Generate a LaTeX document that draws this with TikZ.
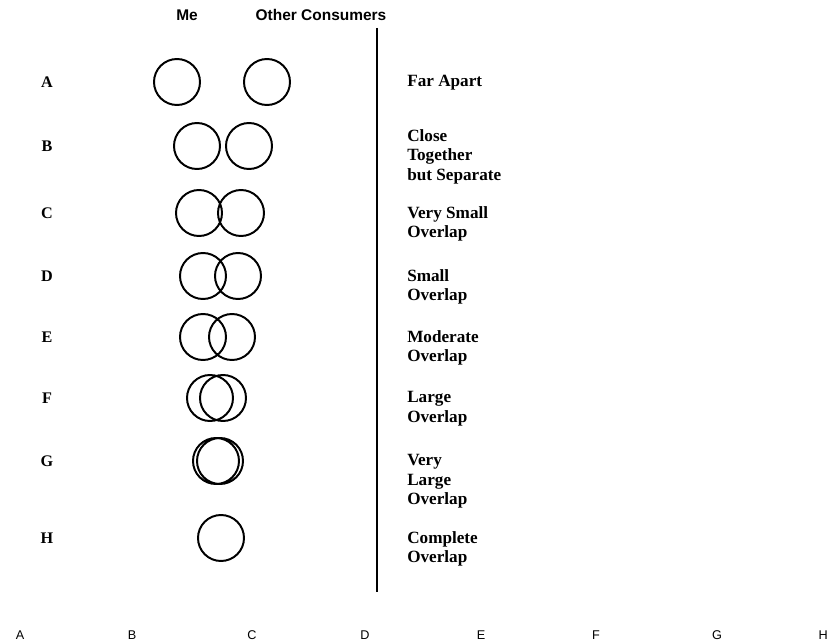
\documentclass[tikz,border=0pt]{standalone}
\usepackage{fontspec}
\setmainfont{Liberation Serif}
\newfontfamily\headfont{Liberation Sans}
\usetikzlibrary{positioning}

\begin{document}
\begin{tikzpicture}[
  x=0.025cm, y=-0.025cm,
  rowlabel/.style={font=\bfseries\fontsize{11.5}{13}\selectfont},
  degree/.style={anchor=north west,align=left,inner sep=0pt,
                 font=\bfseries\fontsize{12.2}{14}\selectfont},
  head/.style={font=\headfont\bfseries\fontsize{11}{13}\selectfont},
  axis/.style={font=\headfont\fontsize{9}{11}\selectfont},
  ring/.style={line width=1.4pt},
  rule/.style={line width=1pt}
]
\useasboundingbox (0,0) rectangle (828,644);

% column heads
\node[head] (me) at (187,15) {Me};
\node[head] (others) at (321,15) {Other Consumers};

% row letters
\node[rowlabel] (rA) at (47,82) {A};
\node[rowlabel] (rB) at (47,146) {B};
\node[rowlabel] (rC) at (47,213) {C};
\node[rowlabel] (rD) at (47,276) {D};
\node[rowlabel] (rE) at (47,337) {E};
\node[rowlabel] (rF) at (47,398) {F};
\node[rowlabel] (rG) at (47,461) {G};
\node[rowlabel] (rH) at (47,538) {H};

% me / other consumers
\draw[ring] (177,82) circle (23) (267,82) circle (23);
\draw[ring] (197,146) circle (23) (249,146) circle (23);
\draw[ring] (199,213) circle (23) (241,213) circle (23);
\draw[ring] (203,276) circle (23) (238,276) circle (23);
\draw[ring] (203,337) circle (23) (232,337) circle (23);
\draw[ring] (210,398) circle (23) (223,398) circle (23);
\draw[ring] (216,461) circle (23) (220,461) circle (23);
\draw[ring] (221,538) circle (23);

% divider
\coordinate (top) at (377,28);
\coordinate (bottom) at (377,592);
\draw[rule] (top) -- (bottom);

% verbal degrees
\node[degree] (dA) at (407,75) {Far Apart};
\node[degree] (dB) at (407,129) {Close\\Together\\but Separate};
\node[degree] (dC) at (407,206) {Very Small\\Overlap};
\node[degree] (dD) at (407,269) {Small\\Overlap};
\node[degree] (dE) at (407,330) {Moderate\\Overlap};
\node[degree] (dF) at (407,391) {Large\\Overlap};
\node[degree] (dG) at (407,454) {Very\\Large\\Overlap};
\node[degree] (dH) at (407,531) {Complete\\Overlap};

% scale letters
\node[axis] (xA) at (20,635) {A};
\node[axis] (xB) at (132,635) {B};
\node[axis] (xC) at (252,635) {C};
\node[axis] (xD) at (365,635) {D};
\node[axis] (xE) at (481,635) {E};
\node[axis] (xF) at (596,635) {F};
\node[axis] (xG) at (717,635) {G};
\node[axis,anchor=east,inner xsep=0pt] (xH) at (828,635) {H};
\end{tikzpicture}
\end{document}
